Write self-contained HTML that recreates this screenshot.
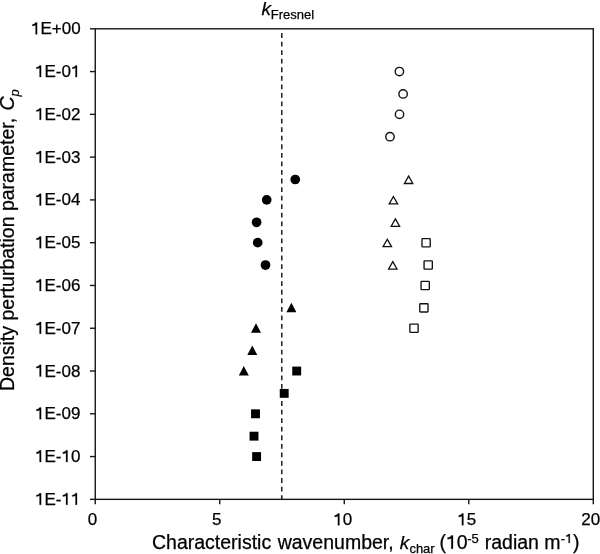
<!DOCTYPE html><html><head><meta charset="utf-8"><style>html,body{margin:0;padding:0;background:#fff;}svg{display:block;will-change:transform;}text{font-family:"Liberation Sans",sans-serif;fill:#000;stroke:#000;stroke-width:0.25px;}.g1{fill:#000;stroke:#000;}</style></head><body>
<svg width="600" height="554" viewBox="0 0 600 554">
<rect width="600" height="554" fill="#fff"/>
<g stroke="#161616" stroke-width="1.4" fill="none" stroke-linecap="butt">
<rect x="95.25" y="28.8" width="498.05" height="470.55"/>
<line x1="90.0" y1="28.80" x2="95.25" y2="28.80"/>
<line x1="90.0" y1="71.58" x2="95.25" y2="71.58"/>
<line x1="90.0" y1="114.35" x2="95.25" y2="114.35"/>
<line x1="90.0" y1="157.13" x2="95.25" y2="157.13"/>
<line x1="90.0" y1="199.91" x2="95.25" y2="199.91"/>
<line x1="90.0" y1="242.69" x2="95.25" y2="242.69"/>
<line x1="90.0" y1="285.46" x2="95.25" y2="285.46"/>
<line x1="90.0" y1="328.24" x2="95.25" y2="328.24"/>
<line x1="90.0" y1="371.02" x2="95.25" y2="371.02"/>
<line x1="90.0" y1="413.79" x2="95.25" y2="413.79"/>
<line x1="90.0" y1="456.57" x2="95.25" y2="456.57"/>
<line x1="90.0" y1="499.35" x2="95.25" y2="499.35"/>
<line x1="95.25" y1="499.35" x2="95.25" y2="504.35"/>
<line x1="219.76" y1="499.35" x2="219.76" y2="504.35"/>
<line x1="344.27" y1="499.35" x2="344.27" y2="504.35"/>
<line x1="468.79" y1="499.35" x2="468.79" y2="504.35"/>
<line x1="593.30" y1="499.35" x2="593.30" y2="504.35"/>
</g>
<line x1="281.8" y1="33.1" x2="281.8" y2="499.35" stroke="#161616" stroke-width="1.45" stroke-dasharray="4.8 3.758"/>
<text x="31.00" y="34.30" font-size="17"> E+00</text>
<path class="g1" d="M0.27 -0.688L0.36 -0.688L0.36 0L0.27 0L0.27 -0.545C0.22 -0.51 0.16 -0.495 0.082 -0.495L0.082 -0.578C0.17 -0.585 0.245 -0.625 0.27 -0.688Z" transform="translate(31.00 34.30) scale(17)" stroke-width="0.0147"/>
<text x="35.00" y="77.08" font-size="17"> E-0 </text>
<path class="g1" d="M0.27 -0.688L0.36 -0.688L0.36 0L0.27 0L0.27 -0.545C0.22 -0.51 0.16 -0.495 0.082 -0.495L0.082 -0.578C0.17 -0.585 0.245 -0.625 0.27 -0.688Z" transform="translate(35.00 77.08) scale(17)" stroke-width="0.0147"/>
<path class="g1" d="M0.27 -0.688L0.36 -0.688L0.36 0L0.27 0L0.27 -0.545C0.22 -0.51 0.16 -0.495 0.082 -0.495L0.082 -0.578C0.17 -0.585 0.245 -0.625 0.27 -0.688Z" transform="translate(70.91 77.08) scale(17)" stroke-width="0.0147"/>
<text x="35.00" y="119.85" font-size="17"> E-02</text>
<path class="g1" d="M0.27 -0.688L0.36 -0.688L0.36 0L0.27 0L0.27 -0.545C0.22 -0.51 0.16 -0.495 0.082 -0.495L0.082 -0.578C0.17 -0.585 0.245 -0.625 0.27 -0.688Z" transform="translate(35.00 119.85) scale(17)" stroke-width="0.0147"/>
<text x="35.00" y="162.63" font-size="17"> E-03</text>
<path class="g1" d="M0.27 -0.688L0.36 -0.688L0.36 0L0.27 0L0.27 -0.545C0.22 -0.51 0.16 -0.495 0.082 -0.495L0.082 -0.578C0.17 -0.585 0.245 -0.625 0.27 -0.688Z" transform="translate(35.00 162.63) scale(17)" stroke-width="0.0147"/>
<text x="35.00" y="205.41" font-size="17"> E-04</text>
<path class="g1" d="M0.27 -0.688L0.36 -0.688L0.36 0L0.27 0L0.27 -0.545C0.22 -0.51 0.16 -0.495 0.082 -0.495L0.082 -0.578C0.17 -0.585 0.245 -0.625 0.27 -0.688Z" transform="translate(35.00 205.41) scale(17)" stroke-width="0.0147"/>
<text x="35.00" y="248.19" font-size="17"> E-05</text>
<path class="g1" d="M0.27 -0.688L0.36 -0.688L0.36 0L0.27 0L0.27 -0.545C0.22 -0.51 0.16 -0.495 0.082 -0.495L0.082 -0.578C0.17 -0.585 0.245 -0.625 0.27 -0.688Z" transform="translate(35.00 248.19) scale(17)" stroke-width="0.0147"/>
<text x="35.00" y="290.96" font-size="17"> E-06</text>
<path class="g1" d="M0.27 -0.688L0.36 -0.688L0.36 0L0.27 0L0.27 -0.545C0.22 -0.51 0.16 -0.495 0.082 -0.495L0.082 -0.578C0.17 -0.585 0.245 -0.625 0.27 -0.688Z" transform="translate(35.00 290.96) scale(17)" stroke-width="0.0147"/>
<text x="35.00" y="333.74" font-size="17"> E-07</text>
<path class="g1" d="M0.27 -0.688L0.36 -0.688L0.36 0L0.27 0L0.27 -0.545C0.22 -0.51 0.16 -0.495 0.082 -0.495L0.082 -0.578C0.17 -0.585 0.245 -0.625 0.27 -0.688Z" transform="translate(35.00 333.74) scale(17)" stroke-width="0.0147"/>
<text x="35.00" y="376.52" font-size="17"> E-08</text>
<path class="g1" d="M0.27 -0.688L0.36 -0.688L0.36 0L0.27 0L0.27 -0.545C0.22 -0.51 0.16 -0.495 0.082 -0.495L0.082 -0.578C0.17 -0.585 0.245 -0.625 0.27 -0.688Z" transform="translate(35.00 376.52) scale(17)" stroke-width="0.0147"/>
<text x="35.00" y="419.29" font-size="17"> E-09</text>
<path class="g1" d="M0.27 -0.688L0.36 -0.688L0.36 0L0.27 0L0.27 -0.545C0.22 -0.51 0.16 -0.495 0.082 -0.495L0.082 -0.578C0.17 -0.585 0.245 -0.625 0.27 -0.688Z" transform="translate(35.00 419.29) scale(17)" stroke-width="0.0147"/>
<text x="35.00" y="462.07" font-size="17"> E- 0</text>
<path class="g1" d="M0.27 -0.688L0.36 -0.688L0.36 0L0.27 0L0.27 -0.545C0.22 -0.51 0.16 -0.495 0.082 -0.495L0.082 -0.578C0.17 -0.585 0.245 -0.625 0.27 -0.688Z" transform="translate(35.00 462.07) scale(17)" stroke-width="0.0147"/>
<path class="g1" d="M0.27 -0.688L0.36 -0.688L0.36 0L0.27 0L0.27 -0.545C0.22 -0.51 0.16 -0.495 0.082 -0.495L0.082 -0.578C0.17 -0.585 0.245 -0.625 0.27 -0.688Z" transform="translate(61.45 462.07) scale(17)" stroke-width="0.0147"/>
<text x="35.00" y="504.85" font-size="17"> E-  </text>
<path class="g1" d="M0.27 -0.688L0.36 -0.688L0.36 0L0.27 0L0.27 -0.545C0.22 -0.51 0.16 -0.495 0.082 -0.495L0.082 -0.578C0.17 -0.585 0.245 -0.625 0.27 -0.688Z" transform="translate(35.00 504.85) scale(17)" stroke-width="0.0147"/>
<path class="g1" d="M0.27 -0.688L0.36 -0.688L0.36 0L0.27 0L0.27 -0.545C0.22 -0.51 0.16 -0.495 0.082 -0.495L0.082 -0.578C0.17 -0.585 0.245 -0.625 0.27 -0.688Z" transform="translate(61.45 504.85) scale(17)" stroke-width="0.0147"/>
<path class="g1" d="M0.27 -0.688L0.36 -0.688L0.36 0L0.27 0L0.27 -0.545C0.22 -0.51 0.16 -0.495 0.082 -0.495L0.082 -0.578C0.17 -0.585 0.245 -0.625 0.27 -0.688Z" transform="translate(70.91 504.85) scale(17)" stroke-width="0.0147"/>
<text x="87.70" y="525.30" font-size="17">0</text>
<text x="212.00" y="525.30" font-size="17">5</text>
<text x="333.30" y="525.30" font-size="17"> 0</text>
<path class="g1" d="M0.27 -0.688L0.36 -0.688L0.36 0L0.27 0L0.27 -0.545C0.22 -0.51 0.16 -0.495 0.082 -0.495L0.082 -0.578C0.17 -0.585 0.245 -0.625 0.27 -0.688Z" transform="translate(333.30 525.30) scale(17)" stroke-width="0.0147"/>
<text x="457.30" y="525.30" font-size="17"> 5</text>
<path class="g1" d="M0.27 -0.688L0.36 -0.688L0.36 0L0.27 0L0.27 -0.545C0.22 -0.51 0.16 -0.495 0.082 -0.495L0.082 -0.578C0.17 -0.585 0.245 -0.625 0.27 -0.688Z" transform="translate(457.30 525.30) scale(17)" stroke-width="0.0147"/>
<text x="581.30" y="525.30" font-size="17">20</text>
<circle cx="295.25" cy="179.50" r="4.85" fill="#000"/>
<circle cx="266.7" cy="199.91" r="4.85" fill="#000"/>
<circle cx="256.6" cy="222.28" r="4.85" fill="#000"/>
<circle cx="257.7" cy="242.69" r="4.85" fill="#000"/>
<circle cx="265.5" cy="265.05" r="4.85" fill="#000"/>
<path d="M291.40 302.73L296.40 312.33L286.40 312.33Z" fill="#000"/>
<path d="M256.00 323.14L261.00 332.74L251.00 332.74Z" fill="#000"/>
<path d="M252.30 345.51L257.30 355.11L247.30 355.11Z" fill="#000"/>
<path d="M243.80 365.92L248.80 375.52L238.80 375.52Z" fill="#000"/>
<rect x="292.25" y="366.57" width="8.9" height="8.9" fill="#000"/>
<rect x="279.75" y="388.93" width="8.9" height="8.9" fill="#000"/>
<rect x="251.05" y="409.34" width="8.9" height="8.9" fill="#000"/>
<rect x="249.55" y="431.71" width="8.9" height="8.9" fill="#000"/>
<rect x="252.15" y="452.12" width="8.9" height="8.9" fill="#000"/>
<circle cx="399.4" cy="71.58" r="4.20" fill="none" stroke="#111" stroke-width="1.4"/>
<circle cx="403.1" cy="93.94" r="4.20" fill="none" stroke="#111" stroke-width="1.4"/>
<circle cx="399.5" cy="114.35" r="4.20" fill="none" stroke="#111" stroke-width="1.4"/>
<circle cx="390" cy="136.72" r="4.20" fill="none" stroke="#111" stroke-width="1.4"/>
<path d="M408.60 176.10L412.80 183.50L404.40 183.50Z" fill="none" stroke="#111" stroke-width="1.3" stroke-linejoin="miter"/>
<path d="M393.40 196.51L397.60 203.91L389.20 203.91Z" fill="none" stroke="#111" stroke-width="1.3" stroke-linejoin="miter"/>
<path d="M395.40 218.88L399.60 226.28L391.20 226.28Z" fill="none" stroke="#111" stroke-width="1.3" stroke-linejoin="miter"/>
<path d="M387.30 239.29L391.50 246.69L383.10 246.69Z" fill="none" stroke="#111" stroke-width="1.3" stroke-linejoin="miter"/>
<path d="M392.80 261.65L397.00 269.05L388.60 269.05Z" fill="none" stroke="#111" stroke-width="1.3" stroke-linejoin="miter"/>
<rect x="421.98" y="238.56" width="8.25" height="8.25" rx="0.6" fill="none" stroke="#111" stroke-width="1.35"/>
<rect x="424.07" y="260.93" width="8.25" height="8.25" rx="0.6" fill="none" stroke="#111" stroke-width="1.35"/>
<rect x="421.07" y="281.34" width="8.25" height="8.25" rx="0.6" fill="none" stroke="#111" stroke-width="1.35"/>
<rect x="419.77" y="303.70" width="8.25" height="8.25" rx="0.6" fill="none" stroke="#111" stroke-width="1.35"/>
<rect x="409.88" y="324.11" width="8.25" height="8.25" rx="0.6" fill="none" stroke="#111" stroke-width="1.35"/>
<text x="261.40" y="14.50" font-size="19" font-style="italic">k</text>
<text x="270.70" y="19.20" font-size="13">Fresnel</text>
<text x="152.00" y="548.80" font-size="19.5">Characteristic</text>
<text x="277.70" y="548.80" font-size="19.5">wavenumber,</text>
<text x="399.80" y="548.80" font-size="19" font-style="italic">k</text>
<text x="409.40" y="552.50" font-size="13">char</text>
<text x="439.50" y="548.80" font-size="19.5">( 0</text>
<path class="g1" d="M0.27 -0.688L0.36 -0.688L0.36 0L0.27 0L0.27 -0.545C0.22 -0.51 0.16 -0.495 0.082 -0.495L0.082 -0.578C0.17 -0.585 0.245 -0.625 0.27 -0.688Z" transform="translate(445.99 548.80) scale(19.5)" stroke-width="0.0128"/>
<text x="467.25" y="543.20" font-size="13">-5</text>
<text x="484.75" y="548.80" font-size="19.5">radian m</text>
<text x="560.80" y="543.00" font-size="13">- </text>
<path class="g1" d="M0.27 -0.688L0.36 -0.688L0.36 0L0.27 0L0.27 -0.545C0.22 -0.51 0.16 -0.495 0.082 -0.495L0.082 -0.578C0.17 -0.585 0.245 -0.625 0.27 -0.688Z" transform="translate(565.13 543.00) scale(13)" stroke-width="0.0192"/>
<text x="572.90" y="548.80" font-size="19.5">)</text>
<text transform="translate(14.20 391.0) rotate(-90)" x="0.00" y="0" font-size="19.5">Density perturbation parameter,</text>
<text transform="translate(14.20 391.0) rotate(-90)" x="280.50" y="0" font-size="19.5" font-style="italic">C</text>
<text transform="translate(18.80 391.0) rotate(-90)" x="294.40" y="0" font-size="13" font-style="italic">p</text>
</svg></body></html>
